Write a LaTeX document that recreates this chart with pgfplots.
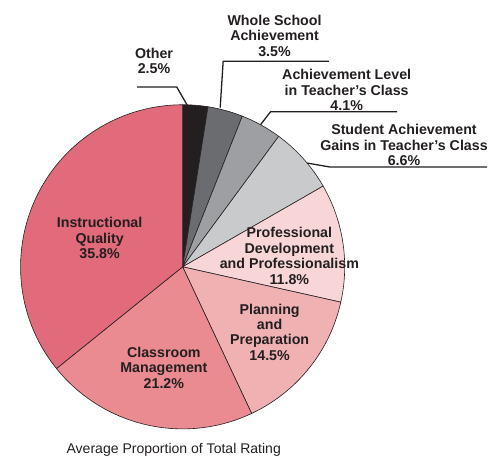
\documentclass[border=0pt]{standalone}
\usepackage{pgfplots}
\usepackage{pgfplotstable}
\pgfplotsset{compat=1.18}
\usepackage{fontspec}
\setmainfont{Liberation Sans}

\definecolor{cOther}{HTML}{231F20}
\definecolor{cWhole}{HTML}{6B6C6F}
\definecolor{cLevel}{HTML}{9D9FA2}
\definecolor{cGains}{HTML}{C9CACC}
\definecolor{cProf}{HTML}{F8D6D7}
\definecolor{cPlan}{HTML}{F0B1B3}
\definecolor{cClass}{HTML}{E98B91}
\definecolor{cInstr}{HTML}{E16A7B}
\definecolor{txt}{HTML}{231F20}

\tikzset{
    lbl/.style={font=\fontsize{14.4}{15.6}\selectfont\bfseries, align=center, text=txt, inner sep=0pt},
    lead/.style={line width=1.3pt, draw=txt},
}

% shares in percent, clockwise from 12 o'clock
\pgfplotstableread{
share colour
2.5  cOther
3.5  cWhole
4.1  cLevel
6.6  cGains
11.8 cProf
14.5 cPlan
21.2 cClass
35.8 cInstr
}\sharedata

\begin{document}
\begin{tikzpicture}
\begin{axis}[
    hide axis,
    x=1pt, y=1pt,
    xmin=0, xmax=488, ymin=0, ymax=462,
    y dir=reverse,
    clip=false,
    scale only axis,
]
\pgfplotsextra{
    \path (axis cs:0,0) rectangle (axis cs:488,462);
    \gdef\startang{90}
    \pgfplotstablegetrowsof{\sharedata}
    \pgfmathtruncatemacro\lastrow{\pgfplotsretval-1}
    \foreach \i in {0,...,\lastrow}{
        \pgfplotstablegetelem{\i}{share}\of\sharedata
        \let\val\pgfplotsretval
        \pgfplotstablegetelem{\i}{colour}\of\sharedata
        \let\slicecol\pgfplotsretval
        \pgfmathsetmacro\endang{\startang-3.6*\val}
        \filldraw[fill=\slicecol, draw=txt, line width=0.6pt, line join=round]
            (axis cs:179,270) -- ++(\startang:164pt)
            arc[start angle=\startang, end angle=\endang, radius=164pt] -- cycle;
        \global\let\startang\endang
    }
    % leader lines
    \draw[lead] (axis cs:133,88) -- (axis cs:173,88) -- (axis cs:184,107);
    \draw[lead] (axis cs:327,62) -- (axis cs:220,62) -- (axis cs:217,109);
    \draw[lead] (axis cs:396,113) -- (axis cs:268,113) -- (axis cs:258,126);
    \draw[lead] (axis cs:487,169) -- (axis cs:328,169) -- (axis cs:305,165);
    % labels
    \node[lbl] at (axis cs:150,61.5) {Other\\2.5\%};
    \node[lbl] at (axis cs:272,36) {Whole School\\Achievement\\3.5\%};
    \node[lbl] at (axis cs:345,91) {Achievement Level\\in Teacher’s Class\\4.1\%};
    \node[lbl] at (axis cs:403,147) {Student Achievement\\Gains in Teacher’s Class\\6.6\%};
    \node[lbl] at (axis cs:95,241) {Instructional\\Quality\\35.8\%};
    \node[lbl] at (axis cs:160,372) {Classroom\\Management\\21.2\%};
    \node[lbl] at (axis cs:267,336) {Planning\\and\\Preparation\\14.5\%};
    \node[lbl] at (axis cs:287,259) {Professional\\Development\\and Professionalism\\11.8\%};
    \node[font=\fontsize{14.2}{16}\selectfont, text=txt, inner sep=0pt] at (axis cs:170,455) {Average Proportion of Total Rating};
}
\end{axis}
\end{tikzpicture}
\end{document}
